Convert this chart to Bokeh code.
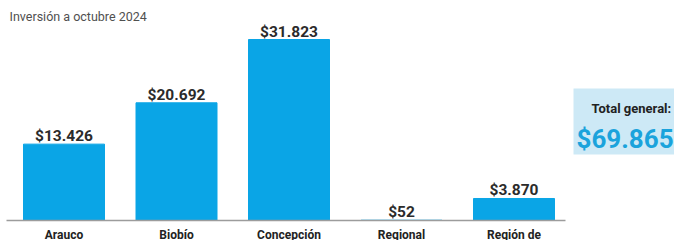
from bokeh.plotting import figure
from bokeh.models import Range1d, ColumnDataSource, Label, BoxAnnotation
from bokeh.core.properties import value
from bokeh.embed import file_html
from bokeh.resources import INLINE

# ---- data ----
categories = ["Arauco", "Biobío", "Concepción", "Regional", "Región de"]
inversion = [13426, 20692, 31823, 52, 3870]
value_labels = ["$13.426", "$20.692", "$31.823", "$52", "$3.870"]
subtitle = "Inversión a octubre 2024"
total_title = "Total general:"
total_value = "$69.865"

# ---- layout / style ----
W, H = 674, 240
FONT = "Roboto"
BAR = "#0aa5e6"
SLOT = 112.5            # px per category
FIRST_CENTER = 63.5     # px from left
BASE_PX = 220           # baseline, px from top
TALLEST_PX = 181        # height of tallest bar in px

idx = list(range(len(categories)))
src = ColumnDataSource(dict(x=idx, top=inversion, cat=categories, lbl=value_labels))

x_start = -FIRST_CENTER / SLOT
per_px = max(inversion) / TALLEST_PX

p = figure(width=W, height=H, output_backend="svg", toolbar_location=None,
           x_range=Range1d(x_start, x_start + W / SLOT),
           y_range=Range1d(-(H - BASE_PX) * per_px, BASE_PX * per_px),
           x_axis_type=None, y_axis_type=None,
           min_border=0, outline_line_color=None)
p.grid.visible = False
p.background_fill_color = "white"
p.border_fill_color = "white"

p.vbar(x="x", top="top", bottom=0, width=0.72, source=src,
       fill_color=BAR, line_color=BAR, line_width=1)

# baseline
p.segment(x0=[x_start + 6 / SLOT], x1=[x_start + 565 / SLOT], y0=[0], y1=[0],
          line_color="#9c9c9c", line_width=1.5)

p.text(x="x", y="top", text="lbl", source=src, text_align="center",
       text_baseline="alphabetic", y_offset=-8, text_font=value(FONT),
       text_font_style="bold", text_font_size="15.5px", text_color="#2b2b2b")

p.text(x="x", y=0, text="cat", source=src, text_align="center",
       text_baseline="alphabetic", y_offset=14, text_font=value(FONT),
       text_font_style="bold", text_font_size="12px", text_color="#222222")

p.add_layout(Label(x=9, y=H - 16, x_units="screen", y_units="screen", text=subtitle,
                   text_baseline="alphabetic", text_font=FONT, text_font_size="12.5px",
                   text_color="#505050"))

p.add_layout(BoxAnnotation(left=573, right=W, top=H - 88, bottom=H - 154,
                           left_units="screen", right_units="screen",
                           top_units="screen", bottom_units="screen",
                           fill_color="#cde9f6", fill_alpha=1, line_color=None))

p.add_layout(Label(x=591, y=H - 108, x_units="screen", y_units="screen", text=total_title,
                   text_baseline="alphabetic", text_font=FONT, text_font_style="bold",
                   text_font_size="13px", text_color="#222222"))
p.add_layout(Label(x=576, y=H - 138, x_units="screen", y_units="screen", text=total_value,
                   text_baseline="alphabetic", text_font=FONT, text_font_style="bold",
                   text_font_size="26px", text_color="#1aa3dc"))

open("out.html", "w").write(file_html(p, INLINE))
